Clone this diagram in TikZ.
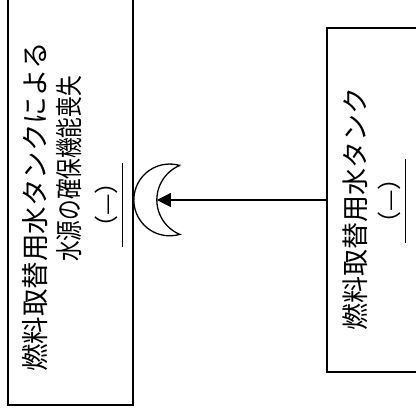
\documentclass[tikz,border=0pt]{standalone}
\usepackage{fontspec}
\setmainfont{Noto Sans CJK JP}
\usetikzlibrary{arrows.meta, calc}
\tikzset{
  evbox/.style={   % fault tree event box
    draw=black, fill=white, line width=1.6pt, inner sep=0pt
  },
  evtext/.style={  % rotated event text
    rotate=90, font=\fontsize{27.5}{28}\selectfont, inner sep=0pt
  },
  evtag/.style={   % rotated tag (—) with bar below
    rotate=90, font=\fontsize{24}{24}\selectfont,
    minimum width=84pt, inner xsep=0pt, inner ysep=5pt
  },
  tagbar/.style={line width=1.6pt},
  moon/.style={draw=black, fill=white, line width=1.3pt},
  farr/.style={-{Triangle[length=14pt, width=14pt]}, line width=1.3pt},
}

\begin{document}
\begin{tikzpicture}[x=1pt, y=1pt]
\useasboundingbox (0,0) rectangle (416,412);
\clip (0,0) rectangle (416,412);

%% ─── LEFT: top event box ─────────────────────────────────────────────────────
\node[evbox, minimum width=125pt, minimum height=410pt] (lbox) at (70.5, 212) {};
\node[evtext] (lline1) at ( 35, 205) {燃料取替用水タンクによる};
\node[evtext] (lline2) at ( 69, 243) {\scalebox{0.75}[1]{水源の確保機能喪失}};
\node[evtag]  (ltag)   at (106, 207) {（—）};
\draw[tagbar] (ltag.south west) -- (ltag.south east);

%% ─── RIGHT: basic event box ──────────────────────────────────────────────────
\node[evbox, minimum width=125pt, minimum height=344pt] (rbox) at (389.5, 212) {};
\node[evtext, font=\fontsize{27}{28}\selectfont] (rline1) at (355, 203) {燃料取替用水タンク};
\node[evtag]  (rtag)   at (389, 211) {（—）};
\draw[tagbar] (rtag.south west) -- (rtag.south east);

%% ─── transfer symbol + arrow ─────────────────────────────────────────────────
\coordinate (moon) at (lbox.east);
\coordinate (moonin) at ($(moon)+(23,0)$);
\draw[moon] ($(moon)+(46,34.5)$)
  arc[start angle=73.7, end angle=286.3, radius=35.9]
  arc[start angle=247.3, end angle=112.7, radius=37.4] -- cycle;

\draw[farr] (rbox.west) -- (moonin);

\end{tikzpicture}
\end{document}
